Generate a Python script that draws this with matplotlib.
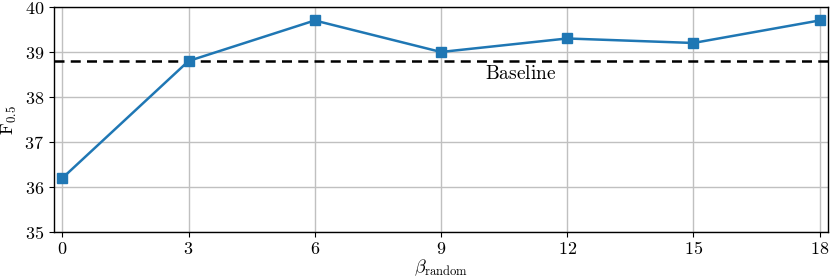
import matplotlib
matplotlib.use("Agg")
import matplotlib.pyplot as plt

plt.rcParams['mathtext.fontset'] = 'cm'
plt.rcParams['font.family'] = 'serif'
plt.rcParams['font.serif'] = ['DejaVu Serif']

beta = [0, 3, 6, 9, 12, 15, 18]
f05 = [36.2, 38.8, 39.7, 39.0, 39.3, 39.2, 39.7]
baseline = 38.8
xticks = [0, 3, 6, 9, 12, 15, 18]
yticks = [35, 36, 37, 38, 39, 40]

fig = plt.figure(figsize=(8.3, 2.78), dpi=100)
ax = fig.add_axes([0.065, 0.165, 0.9325, 0.81])
ax.grid(True, color='#c0c0c0', linewidth=1.0)
ax.set_axisbelow(True)
ax.axhline(baseline, color='black', linestyle='--', linewidth=1.8, dashes=(4, 2.5))
ax.plot(beta, f05, color='#1f77b4', marker='s', markersize=7, linewidth=1.8)
ax.text(10.9, baseline - 0.1, r'$\mathrm{Baseline}$', fontsize=14, va='top', ha='center')
ax.set_xlim(-0.2, 18.2)
ax.set_ylim(35, 40)
ax.set_xticks(xticks)
ax.set_xticklabels([f'${t}$' for t in xticks], fontsize=13)
ax.tick_params(axis='x', pad=2)
ax.set_yticks(yticks)
ax.set_yticklabels([f'${t}$' for t in yticks], fontsize=13)
ax.set_xlabel(r'$\beta_{\mathrm{random}}$', fontsize=13)
ax.xaxis.set_label_coords(0.5, -0.112)
ax.set_ylabel(r'$\mathrm{F}_{0.5}$', fontsize=13, labelpad=4)
for s in ax.spines.values():
    s.set_linewidth(1.0)
fig.savefig('out.png', dpi=100)
